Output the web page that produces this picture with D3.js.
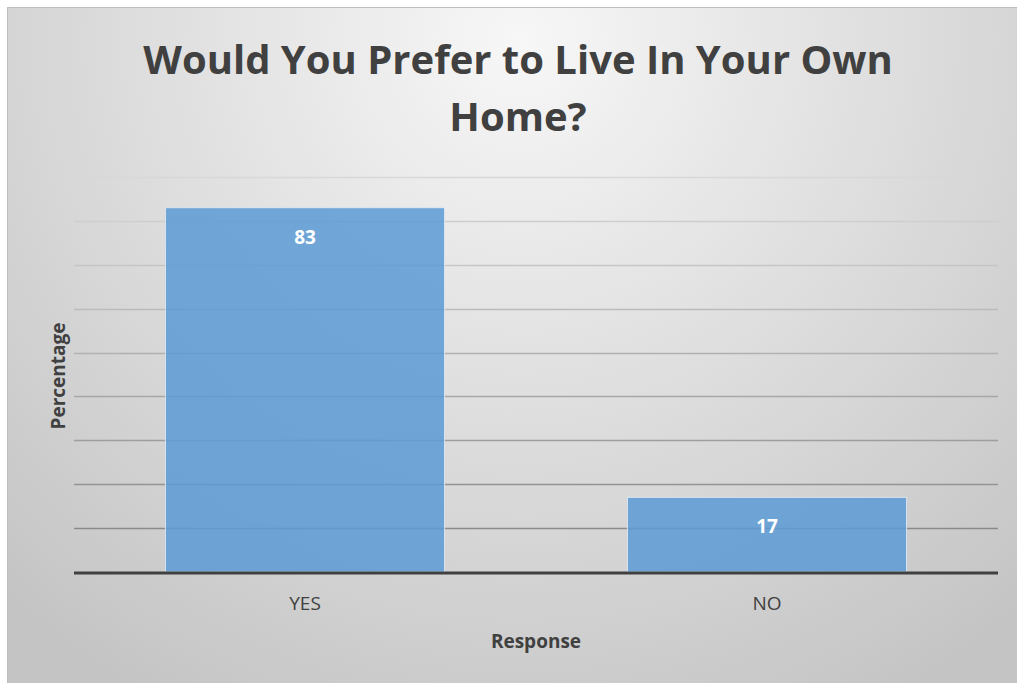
<!DOCTYPE html>
<html>
<meta charset="utf-8">
<style>
body { margin: 0; background: #fff; }
text { font-family: "Open Sans", sans-serif; fill: #404040; }
.title { font-weight: 700; font-size: 40px; }
.axis-title { font-weight: 700; font-size: 19px; }
.tick-label { font-size: 19px; }
.bar-label { font-weight: 700; font-size: 19px; fill: #fff; }
</style>
<body>
<div id="chart"></div>
<script src="https://d3js.org/d3.v7.min.js"></script>
<script>

var categories = ["YES", "NO"];
var values = [83, 17];
var yTicks = [0, 10, 20, 30, 40, 50, 60, 70, 80, 90];
var titleLines = ["Would You Prefer to Live In Your Own", "Home?"];

var W = 1017, H = 683;
var plot = {left: 74, right: 998, top: 177, bottom: 572};

var svg = d3.select("#chart").append("svg")
    .attr("width", W)
    .attr("height", H);

var defs = svg.append("defs");
var grad = defs.append("radialGradient")
    .attr("id", "bg")
    .attr("gradientUnits", "userSpaceOnUse")
    .attr("cx", 520).attr("cy", 40).attr("r", 760);
grad.append("stop").attr("offset", "0").attr("stop-color", "#f7f7f7");
grad.append("stop").attr("offset", "1").attr("stop-color", "#c4c4c4");

svg.append("rect")
    .attr("x", 7).attr("y", 7)
    .attr("width", W - 7).attr("height", H - 7)
    .attr("fill", "url(#bg)");
svg.append("path")
    .attr("d", "M7.5," + H + "V7.5H" + W)
    .attr("fill", "none")
    .attr("stroke", "#bdbdbd");

var x = d3.scaleBand()
    .domain(categories)
    .range([plot.left, plot.right])
    .paddingInner(0.396)
    .paddingOuter(0.198);

var y = d3.scaleLinear()
    .domain([0, 90])
    .range([plot.bottom, plot.top]);

// gridlines get darker toward the bottom
var gridColor = d3.scaleLinear().domain([90, 10]).range(["#d8d8d8", "#8a8a8a"]);

svg.append("g")
  .selectAll("line")
  .data(yTicks.filter(function(d) { return d > 0; }))
  .join("line")
    .attr("x1", plot.left)
    .attr("x2", plot.right)
    .attr("y1", function(d) { return Math.round(y(d)) + 0.5; })
    .attr("y2", function(d) { return Math.round(y(d)) + 0.5; })
    .attr("stroke", function(d) { return gridColor(d); })
    .attr("stroke-width", 1.5);

svg.append("g")
  .selectAll("rect")
  .data(values)
  .join("rect")
    .attr("x", function(d, i) { return x(categories[i]); })
    .attr("y", function(d) { return y(d); })
    .attr("width", x.bandwidth())
    .attr("height", function(d) { return y(0) - y(d); })
    .attr("fill", "#5b9bd5")
    .attr("fill-opacity", 0.85)
    .attr("stroke", "#e8eef5")
    .attr("stroke-opacity", 0.8)
    .attr("stroke-width", 1);

svg.append("g")
  .selectAll("text")
  .data(values)
  .join("text")
    .attr("class", "bar-label")
    .attr("x", function(d, i) { return x(categories[i]) + x.bandwidth() / 2; })
    .attr("y", function(d) { return y(d) + 36; })
    .attr("text-anchor", "middle")
    .text(function(d) { return d; });

svg.append("line")
    .attr("x1", plot.left).attr("x2", plot.right)
    .attr("y1", y(0) + 1).attr("y2", y(0) + 1)
    .attr("stroke", "#404040")
    .attr("stroke-width", 3);

var xAxis = d3.axisBottom(x).tickSize(0).tickPadding(0);
var gx = svg.append("g")
    .attr("transform", "translate(0," + (plot.bottom + 38) + ")")
    .call(xAxis);
gx.select(".domain").remove();
gx.selectAll("text")
    .attr("class", "tick-label")
    .attr("dy", 0)
    .attr("fill", null)
    .style("font-family", null)
    .style("font-size", null);
gx.attr("font-size", null).attr("font-family", null);

svg.append("text")
    .attr("class", "title")
    .attr("text-anchor", "middle")
  .selectAll("tspan")
  .data(titleLines)
  .join("tspan")
    .attr("x", 518)
    .attr("y", function(d, i) { return 74 + i * 57; })
    .text(function(d) { return d; });

svg.append("text")
    .attr("class", "axis-title")
    .attr("text-anchor", "middle")
    .attr("x", 536)
    .attr("y", 648)
    .text("Response");

svg.append("text")
    .attr("class", "axis-title")
    .attr("text-anchor", "middle")
    .attr("transform", "translate(65,376) rotate(-90)")
    .text("Percentage");

</script>
</body>
</html>
